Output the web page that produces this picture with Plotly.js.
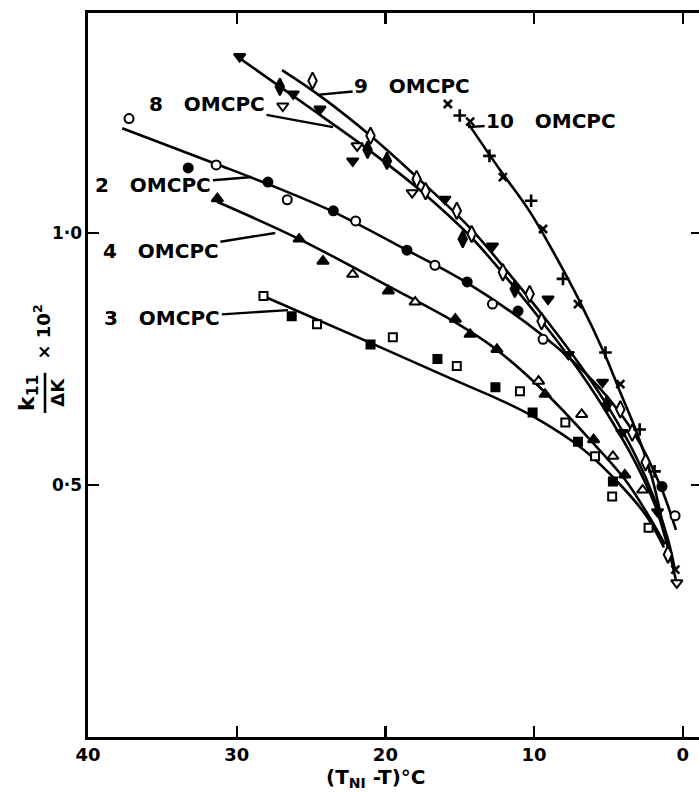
<!DOCTYPE html>
<html>
<head>
<meta charset="utf-8">
<script src="https://cdn.plot.ly/plotly-3.0.1.min.js"></script>
<style>
html,body{margin:0;padding:0;overflow:hidden;background:#fff;}
#chart{width:702px;height:792px;}
</style>
</head>
<body>
<div id="chart"></div>
<script>
// ---------- data ----------
// x = (T_NI - T) in °C, y = k11/ΔK × 10^2

// 2 OMCPC (circles)
const c2OpenX   = [37.24, 31.38, 26.6, 22.0, 16.67, 12.8, 9.4, 0.52];
const c2OpenY   = [1.227, 1.135, 1.066, 1.024, 0.936, 0.859, 0.789, 0.439];
const c2FillX   = [33.26, 27.9, 23.5, 18.55, 14.5, 11.08, 1.4];
const c2FillY   = [1.129, 1.101, 1.044, 0.966, 0.903, 0.845, 0.497];
const c2CurveX  = [37.7, 31.38, 27.9, 23.5, 18.55, 14.5, 9.4, 5.77, 3.2, 1.53, 0.46];
const c2CurveY  = [1.208, 1.137, 1.097, 1.042, 0.966, 0.901, 0.796, 0.698, 0.599, 0.50, 0.411];

// 4 OMCPC (triangles)
const c4FillX   = [31.3, 25.8, 24.2, 19.8, 15.3, 14.3, 12.5, 9.26, 6.0, 3.9];
const c4FillY   = [1.068, 0.988, 0.944, 0.885, 0.829, 0.799, 0.769, 0.68, 0.59, 0.52];
const c4OpenX   = [22.2, 18.0, 9.7, 6.8, 4.7, 2.7];
const c4OpenY   = [0.918, 0.863, 0.706, 0.64, 0.557, 0.49];
const c4CurveX  = [31.32, 25.8, 19.83, 15.32, 12.5, 9.27, 6.24, 3.89, 2.34, 1.2];
const c4CurveY  = [1.062, 0.988, 0.895, 0.823, 0.768, 0.684, 0.590, 0.511, 0.441, 0.382];

// 3 OMCPC (squares)
const c3OpenX   = [28.2, 24.6, 19.5, 15.2, 10.95, 7.9, 5.9, 4.75, 2.3];
const c3OpenY   = [0.875, 0.819, 0.793, 0.736, 0.686, 0.624, 0.557, 0.477, 0.415];
const c3FillX   = [26.3, 21.0, 16.5, 12.6, 10.1, 7.05, 4.7];
const c3FillY   = [0.835, 0.779, 0.75, 0.694, 0.644, 0.586, 0.507];
const c3CurveX  = [28.23, 21.0, 15.66, 12.3, 10.07, 6.71, 4.22, 2.41, 1.27];
const c3CurveY  = [0.875, 0.782, 0.712, 0.669, 0.636, 0.571, 0.501, 0.437, 0.376];

// 8 OMCPC (inverted triangles)
const c8FillX   = [29.8, 26.2, 24.4, 22.2, 16.0, 12.8, 9.06, 7.7, 5.4, 4.1, 1.7];
const c8FillY   = [1.35, 1.276, 1.246, 1.143, 1.067, 0.974, 0.869, 0.759, 0.704, 0.604, 0.447];
const c8OpenX   = [26.9, 21.9, 18.2, 0.4];
const c8OpenY   = [1.252, 1.173, 1.08, 0.306];
const c8CurveX  = [29.91, 26.21, 23.72, 21.04, 17.67, 14.31, 11.62, 9.27, 6.91, 4.90, 3.21, 1.87, 0.99, 0.46];
const c8CurveY  = [1.349, 1.272, 1.220, 1.163, 1.085, 0.994, 0.903, 0.817, 0.724, 0.633, 0.546, 0.460, 0.375, 0.311];

// 9 OMCPC (diamonds)
const c9OpenX   = [24.9, 21.0, 17.9, 17.3, 15.2, 14.2, 12.1, 10.3, 9.5, 4.2, 3.4, 2.5, 1.0];
const c9OpenY   = [1.302, 1.193, 1.107, 1.083, 1.044, 0.998, 0.922, 0.879, 0.825, 0.65, 0.604, 0.545, 0.362];
const c9FillX   = [27.1, 21.2, 19.9, 14.8, 11.3, 5.1];
const c9FillY   = [1.29, 1.165, 1.143, 0.988, 0.889, 0.66];
const c9CurveX  = [26.95, 24.40, 21.04, 17.67, 14.31, 11.62, 9.27, 6.91, 4.90, 3.21, 1.87, 0.99, 0.52];
const c9CurveY  = [1.323, 1.272, 1.194, 1.105, 1.010, 0.917, 0.831, 0.738, 0.649, 0.560, 0.470, 0.391, 0.331];

// 10 OMCPC (crosses)
const c10XmarkX = [15.8, 14.3, 12.1, 9.4, 7.05, 4.2, 0.5];
const c10XmarkY = [1.256, 1.221, 1.111, 1.008, 0.859, 0.70, 0.332];
const c10PlusX  = [15.0, 13.0, 10.2, 8.06, 5.2, 2.9, 1.9];
const c10PlusY  = [1.233, 1.153, 1.064, 0.909, 0.763, 0.61, 0.527];
const c10CurveX = [14.45, 12.29, 10.28, 8.59, 6.91, 5.23, 4.22, 3.08, 2.07, 1.33, 0.86];
const c10CurveY = [1.218, 1.125, 1.042, 0.956, 0.863, 0.758, 0.685, 0.603, 0.514, 0.421, 0.361];

// ticks
const xTickVals = [40, 30, 20, 10, 0];
const xTickText = ['40', '30', '20', '10', '0'];
const yTickVals = [0.5, 1.0];
const yTickText = ['0·5', '1·0'];

// labels: text, text position, point on curve
const labelText = ['8 OMCPC', '9 OMCPC', '10 OMCPC', '2 OMCPC', '4 OMCPC', '3 OMCPC'];
const labelTX   = [32.0, 18.2, 8.86, 35.6, 35.1, 35.0];
const labelTY   = [1.256, 1.292, 1.222, 1.095, 0.964, 0.831];
const labelPX   = [23.52, 24.6, 14.45, 28.97, 27.41, 26.55];
const labelPY   = [1.210, 1.274, 1.210, 1.111, 1.0, 0.847];

// ---------- build ----------
const FONT = 'DejaVu Sans, Liberation Sans, Arial, sans-serif';
const ink = '#000';
function curve(x, y) {
  return {x, y, mode: 'lines', type: 'scatter', line: {color: ink, width: 2.6, shape: 'spline', smoothing: 1.0}, hoverinfo: 'skip', showlegend: false};
}
function pts(x, y, symbol, open, size) {
  return {x, y, mode: 'markers', type: 'scatter', showlegend: false, hoverinfo: 'skip',
    marker: {symbol, size, color: open ? '#fff' : ink, line: {color: ink, width: 2}}};
}
function cross(x, y, symbol, size) {
  return {x, y, mode: 'markers', type: 'scatter', showlegend: false, hoverinfo: 'skip',
    marker: {symbol, size, color: ink, line: {color: ink, width: 2.6}}};
}

const data = [
  curve(c2CurveX, c2CurveY), curve(c4CurveX, c4CurveY), curve(c3CurveX, c3CurveY),
  curve(c8CurveX, c8CurveY), curve(c9CurveX, c9CurveY), curve(c10CurveX, c10CurveY),
  pts(c2OpenX, c2OpenY, 'circle', true, 9), pts(c2FillX, c2FillY, 'circle', false, 9),
  pts(c4OpenX, c4OpenY, 'triangle-up', true, 10), pts(c4FillX, c4FillY, 'triangle-up', false, 10),
  pts(c3OpenX, c3OpenY, 'square', true, 8), pts(c3FillX, c3FillY, 'square', false, 8),
  pts(c8OpenX, c8OpenY, 'triangle-down', true, 10), pts(c8FillX, c8FillY, 'triangle-down', false, 10),
  pts(c9OpenX, c9OpenY, 'diamond-tall', true, 12), pts(c9FillX, c9FillY, 'diamond-tall', false, 12),
  cross(c10XmarkX, c10XmarkY, 'x-thin', 8), cross(c10PlusX, c10PlusY, 'cross-thin', 9)
];

const annotations = labelText.map((t, i) => ({
  text: t.replace(' ', '\u00a0\u00a0\u00a0'), x: labelPX[i], y: labelPY[i], ax: labelTX[i], ay: labelTY[i],
  xref: 'x', yref: 'y', axref: 'x', ayref: 'y', showarrow: true, arrowhead: 0, arrowwidth: 2.4,
  arrowcolor: ink, font: {family: FONT, size: 20, color: ink, weight: 'bold'}, borderpad: 1
}));

// axis titles (paper coordinates)
annotations.push(
  {text: '(T<sub>NI</sub> -T)°C', xref: 'paper', yref: 'paper', x: 0.469, y: -0.057, showarrow: false,
   font: {family: FONT, size: 20, color: ink, weight: 'bold'}, xanchor: 'center', yanchor: 'middle'},
  {text: 'k<sub>11</sub>', xref: 'paper', yref: 'paper', x: -0.098, y: 0.475, showarrow: false, textangle: -90,
   font: {family: FONT, size: 22, color: ink, weight: 'bold'}, xanchor: 'center', yanchor: 'middle'},
  {text: 'ΔK', xref: 'paper', yref: 'paper', x: -0.051, y: 0.4765, showarrow: false, textangle: -90,
   font: {family: FONT, size: 18, color: ink, weight: 'bold'}, xanchor: 'center', yanchor: 'middle'},
  {text: '× 10<sup>2</sup>', xref: 'paper', yref: 'paper', x: -0.075, y: 0.56, showarrow: false, textangle: -90,
   font: {family: FONT, size: 18, color: ink, weight: 'bold'}, xanchor: 'center', yanchor: 'middle'}
);

const layout = {
  width: 702, height: 792,
  margin: {l: 88, r: 0, t: 13, b: 55},
  paper_bgcolor: '#fff', plot_bgcolor: '#fff',
  showlegend: false,
  font: {family: FONT, color: ink},
  xaxis: {range: [40, 40 - 614 / 14.87], showgrid: false, zeroline: false,
    showline: true, linewidth: 2.6, linecolor: ink, mirror: 'ticks',
    ticks: 'inside', ticklen: 11, tickwidth: 2.4, tickcolor: ink,
    tickvals: xTickVals, ticktext: xTickText,
    tickfont: {family: FONT, size: 18, color: ink, weight: 'bold'}},
  yaxis: {range: [0, 724 / 504], showgrid: false, zeroline: false,
    showline: true, linewidth: 2.6, linecolor: ink, mirror: 'ticks',
    ticks: 'inside', ticklen: 11, tickwidth: 2.4, tickcolor: ink,
    tickvals: yTickVals, ticktext: yTickText,
    tickfont: {family: FONT, size: 17, color: ink, weight: 'bold'}},
  shapes: [
    {type: 'line', xref: 'paper', yref: 'paper', x0: -0.070, x1: -0.070, y0: 0.4475, y1: 0.503,
     line: {color: ink, width: 2.6}}
  ],
  annotations
};

Plotly.newPlot('chart', data, layout, {displayModeBar: false, staticPlot: true});
</script>
</body>
</html>
